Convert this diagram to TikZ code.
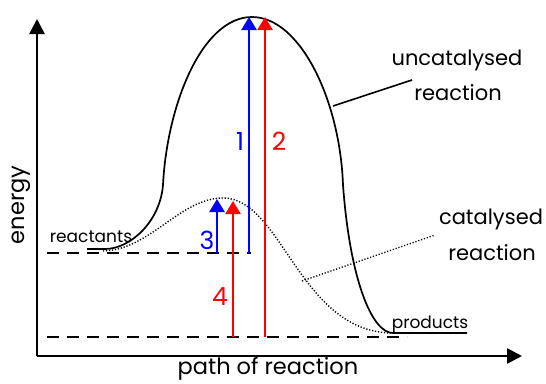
\documentclass[tikz,border=0pt]{standalone}
\usepackage{fontspec}
\setmainfont{Poppins}
\usetikzlibrary{arrows.meta}
\definecolor{pblue}{RGB}{0,0,255}
\definecolor{pred}{RGB}{255,0,0}
\begin{document}
\begin{tikzpicture}[x=1pt,y=-1pt,
  axis/.style={line width=2.6pt,-{Triangle[width=15pt,length=15pt]}},
  level/.style={line width=1.8pt,dash pattern=on 12pt off 8pt},
  curve/.style={line width=1.7pt},
  ea/.style={line width=2.6pt,-{Triangle[width=15pt,length=13pt]}},
  big/.style={font=\fontsize{21}{24}\selectfont,inner sep=0pt},
  axl/.style={font=\fontsize{22.5}{25}\selectfont,inner sep=0pt},
  small/.style={font=\fontsize{17}{19}\selectfont,inner sep=0pt},
  num/.style={font=\fontsize{25}{27}\selectfont,inner sep=0pt},
  dots/.style={dash pattern=on 1.2pt off 1.8pt}]
\useasboundingbox (0,0) rectangle (546,383);
% axes
\coordinate (O) at (37,356);
\coordinate (Ytop) at (37,19);
\coordinate (Xend) at (522,356);
\draw[axis] (O) -- (Ytop);
\draw[axis] (O) -- (Xend);
\node[axl,rotate=90] (energy) at (21,205) {energy};
\node[axl] (path) at (268,369) {path of reaction};
% levels
\coordinate (R0) at (47,253);
\coordinate (R1) at (251,253);
\coordinate (P0) at (47,337);
\coordinate (P1) at (407,337);
\draw[level] (R0) -- (R1);
\draw[level] (P0) -- (P1);
% uncatalysed curve
\coordinate (Rs) at (87,249);
\coordinate (Pe) at (467,333);
\draw[curve] (Rs) -- (105,249) .. controls (130,249) and (160,222) .. (163,185)
  .. controls (167,105) and (202,17) .. (252,17)
  .. controls (300,17) and (340,100) .. (343,185)
  .. controls (350,280) and (372,333) .. (393,333) -- (Pe);
% catalysed curve
\draw[line width=1.4pt,dots] (103,251) .. controls (150,250) and (180,198) .. (223,198)
  .. controls (282,198) and (300,333) .. (393,333);
% labels
\node[small] (reactants) at (91,237) {reactants};
\node[small] (products) at (430,324) {products};
\node[big] (unc1) at (457,60) {uncatalysed};
\node[big] (unc2) at (458,93) {reaction};
\node[big] (cat1) at (491,219) {catalysed};
\node[big] (cat2) at (492,253) {reaction};
% leaders
\coordinate (Lu0) at (333,106);
\coordinate (Lu1) at (412,80);
\coordinate (Lc0) at (302,281);
\coordinate (Lc1) at (435,235);
\draw[line width=1.6pt] (Lu0) -- (Lu1);
\draw[line width=1.3pt,dots] (Lc0) -- (Lc1);
% activation energy arrows
\coordinate (a1s) at (249,253); \coordinate (a1e) at (249,17);
\coordinate (a2s) at (265,337); \coordinate (a2e) at (265,17);
\coordinate (a3s) at (217,253); \coordinate (a3e) at (217,199);
\coordinate (a4s) at (233,337); \coordinate (a4e) at (233,201);
\draw[ea,pblue] (a1s) -- (a1e);
\draw[ea,pred] (a2s) -- (a2e);
\draw[ea,pblue] (a3s) -- (a3e);
\draw[ea,pred] (a4s) -- (a4e);
\node[num,text=pblue] (n1) at (240,141) {1};
\node[num,text=pred] (n2) at (279,141) {2};
\node[num,text=pblue] (n3) at (207,240) {3};
\node[num,text=pred] (n4) at (220,297) {4};
\end{tikzpicture}
\end{document}
